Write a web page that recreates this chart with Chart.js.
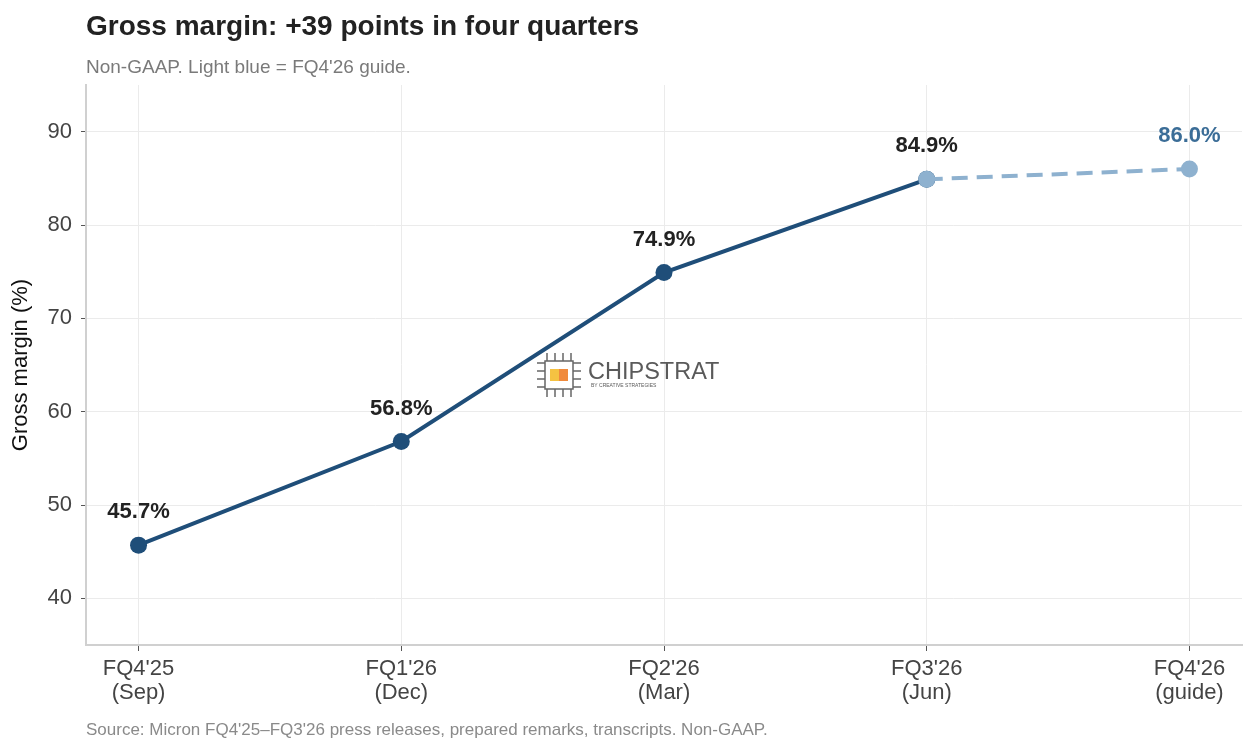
<!DOCTYPE html>
<html>
<head>
<meta charset="utf-8">
<script src="https://cdn.jsdelivr.net/npm/chart.js@4"></script>
<style>
  html, body { margin: 0; padding: 0; background: #fff; }
  #wrap { width: 1257px; height: 753px; position: relative; }
</style>
</head>
<body>
<div id="wrap"><canvas id="grafico"></canvas></div>
<script>
const trimestres = ["FQ4'25", "FQ1'26", "FQ2'26", "FQ3'26", "FQ4'26"];
const meses = ["(Sep)", "(Dec)", "(Mar)", "(Jun)", "(guide)"];
const margenReal = [45.7, 56.8, 74.9, 84.9, null];
const margenGuia = [null, null, null, 84.9, 86.0];
const ticksY = [40, 50, 60, 70, 80, 90];

const AZUL = "#1f4e79";
const CELESTE = "#8eb1cf";
const FUENTE = "'Liberation Sans', Arial, sans-serif";

function aPuntos(arr) {
  return arr.map((v, i) => ({ x: i, y: v }));
}

// textos de encabezado, pie, etiquetas y marca de agua
const pluginTextos = {
  id: "textos",
  afterDatasetsDraw(chart) {
    const ctx = chart.ctx;
    const area = chart.chartArea;
    ctx.save();
    ctx.textBaseline = "middle";
    ctx.textAlign = "left";
    ctx.fillStyle = "#222";
    ctx.font = "bold 28px " + FUENTE;
    ctx.fillText("Gross margin: +39 points in four quarters", area.left, 27);
    ctx.fillStyle = "#7a7a7a";
    ctx.font = "19px " + FUENTE;
    ctx.fillText("Non-GAAP. Light blue = FQ4'26 guide.", area.left, 68);
    ctx.font = "17px " + FUENTE;
    ctx.fillStyle = "#8a8a8a";
    ctx.fillText("Source: Micron FQ4'25\u2013FQ3'26 press releases, prepared remarks, transcripts. Non-GAAP.", area.left, 730);

    // etiquetas de valores
    const xs = chart.scales.x, ys = chart.scales.y;
    ctx.textAlign = "center";
    ctx.font = "bold 22px " + FUENTE;
    margenReal.forEach((v, i) => {
      if (v == null) return;
      ctx.fillStyle = "#222";
      ctx.fillText(v.toFixed(1) + "%", xs.getPixelForValue(i), ys.getPixelForValue(v) - 33);
    });
    margenGuia.forEach((v, i) => {
      if (v == null || margenReal[i] != null) return;
      ctx.fillStyle = "#3b6d97";
      ctx.fillText(v.toFixed(1) + "%", xs.getPixelForValue(i), ys.getPixelForValue(v) - 33);
    });

    // marca de agua
    const lx = 537, ly = 353;
    ctx.strokeStyle = "#666";
    ctx.lineWidth = 1.5;
    ctx.strokeRect(lx + 8, ly + 8, 28, 28);
    for (let k = 0; k < 4; k++) {
      const p = lx + 10 + k * 8;
      ctx.beginPath(); ctx.moveTo(p, ly); ctx.lineTo(p, ly + 8); ctx.stroke();
      ctx.beginPath(); ctx.moveTo(p, ly + 36); ctx.lineTo(p, ly + 44); ctx.stroke();
      ctx.beginPath(); ctx.moveTo(lx, ly + 10 + k * 8); ctx.lineTo(lx + 8, ly + 10 + k * 8); ctx.stroke();
      ctx.beginPath(); ctx.moveTo(lx + 36, ly + 10 + k * 8); ctx.lineTo(lx + 44, ly + 10 + k * 8); ctx.stroke();
    }
    ctx.fillStyle = "#f5c242";
    ctx.fillRect(lx + 13, ly + 16, 9, 12);
    ctx.fillStyle = "#f08a3c";
    ctx.fillRect(lx + 22, ly + 16, 9, 12);
    ctx.textAlign = "left";
    ctx.fillStyle = "#5a5a5a";
    ctx.font = "23.5px " + FUENTE;
    ctx.fillText("CHIPSTRAT", 588, 373);
    ctx.font = "5px " + FUENTE;
    ctx.fillText("BY CREATIVE STRATEGIES", 591, 386);
    ctx.restore();
  },
};

new Chart(document.getElementById("grafico").getContext("2d"), {
  type: "line",
  data: {
    datasets: [
      {
        label: "Guía",
        data: aPuntos(margenGuia),
        borderColor: CELESTE,
        backgroundColor: CELESTE,
        borderWidth: 4,
        borderDash: [16, 9],
        pointRadius: 8.5,
        pointHoverRadius: 8.5,
        pointBorderWidth: 0,
        order: 0,
      },
      {
        label: "Margen bruto",
        data: aPuntos(margenReal),
        borderColor: AZUL,
        backgroundColor: AZUL,
        borderWidth: 4,
        pointRadius: 8.5,
        pointHoverRadius: 8.5,
        pointBorderWidth: 0,
        order: 1,
      },
    ],
  },
  options: {
    responsive: true,
    maintainAspectRatio: false,
    animation: false,
    layout: { padding: { top: 85, right: 15, bottom: 33, left: 0 } },
    plugins: {
      legend: { display: false },
      tooltip: { enabled: false },
    },
    scales: {
      x: {
        type: "linear",
        min: -0.2,
        max: 4.2,
        afterFit: (s) => { s.height = 75; },
        afterBuildTicks: (s) => { s.ticks = trimestres.map((t, i) => ({ value: i })); },
        border: { color: "#d0d0d0", width: 2 },
        grid: { color: "#ebebeb", tickColor: "#555", tickLength: 6, lineWidth: 1 },
        ticks: {
          color: "#444",
          font: { family: FUENTE, size: 22, lineHeight: 1.08 },
          padding: 6,
          callback: (v) => [trimestres[v], meses[v]],
        },
      },
      y: {
        min: 35,
        max: 95,
        afterFit: (s) => { s.width = 86; },
        afterBuildTicks: (s) => { s.ticks = ticksY.map((v) => ({ value: v })); },
        border: { color: "#d0d0d0", width: 2 },
        grid: { color: "#ebebeb", tickColor: "#555", tickLength: 5 },
        ticks: { color: "#444", font: { family: FUENTE, size: 22 }, padding: 9 },
        title: {
          display: true,
          text: "Gross margin (%)",
          color: "#111",
          font: { family: FUENTE, size: 22 },
          padding: { top: 8 },
        },
      },
    },
  },
  plugins: [pluginTextos],
});
</script>
</body>
</html>
